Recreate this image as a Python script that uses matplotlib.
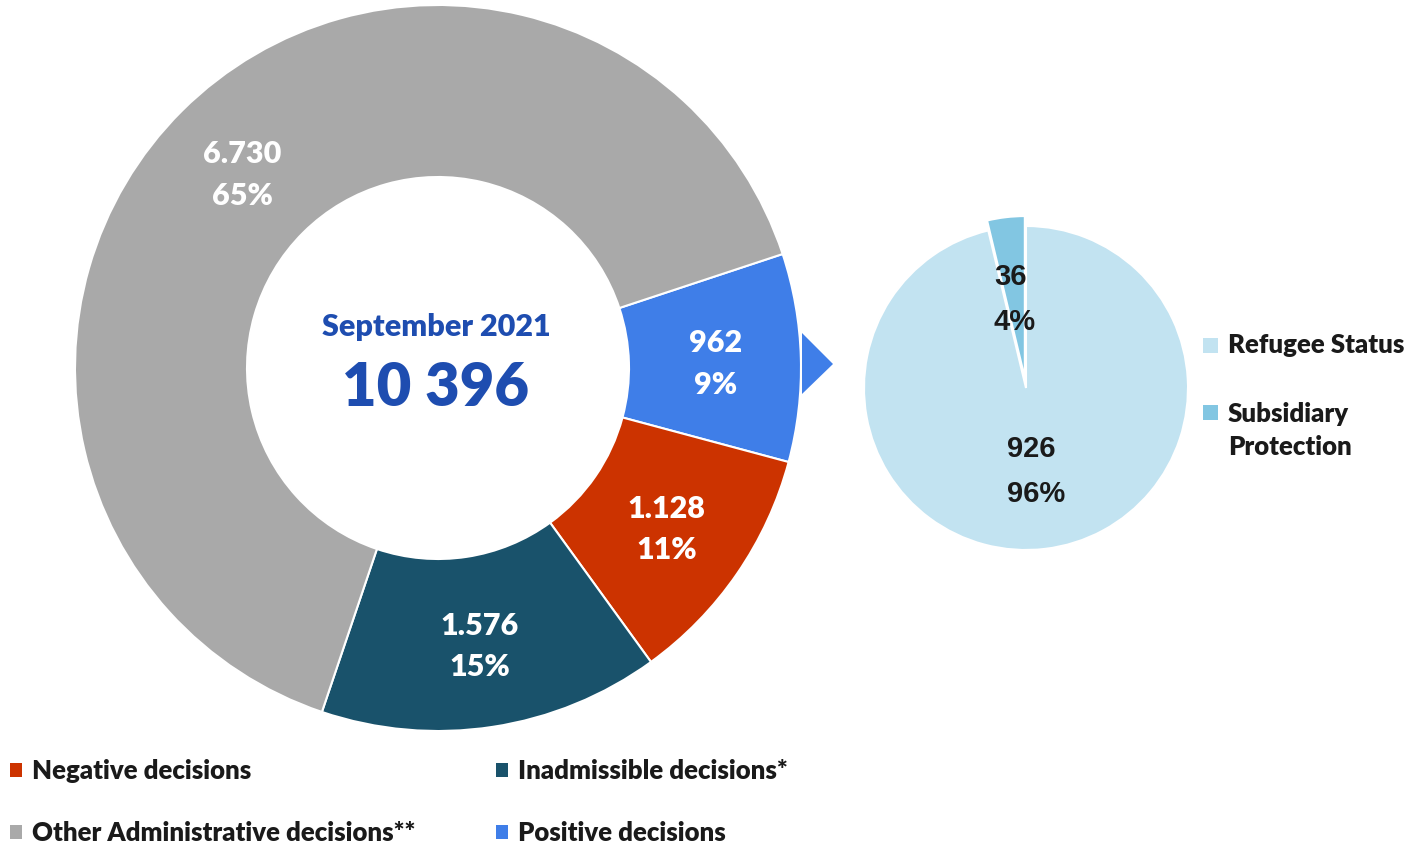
import matplotlib
matplotlib.use("Agg")
import matplotlib.pyplot as plt
from matplotlib.patches import Polygon, Rectangle

# ---------------- data ----------------
categories = ["Negative decisions", "Inadmissible decisions*",
              "Other Administrative decisions**", "Positive decisions"]
values = [1128, 1576, 6730, 962]
colors = ["#CC3300", "#19526B", "#A9A9A9", "#3F7EE8"]
value_labels = ["1.128", "1.576", "6.730", "962"]

center_title = "September 2021"
center_total = "10 396"

sub_categories = ["Subsidiary\nProtection", "Refugee Status"]
sub_values = [36, 926]
sub_colors = ["#82C6E2", "#C2E3F1"]

W, H = 1421, 849
fig = plt.figure(figsize=(W / 100, H / 100), dpi=100)
ax = fig.add_axes([0, 0, 1, 1])

def py(y):
    return H - y

FONT = "Lato"
WEIGHT = "heavy"

# donut order (clockwise from the positive slice)
order = [3, 0, 1, 2]
d_vals = [values[i] for i in order]
d_cols = [colors[i] for i in order]
d_lbls = [value_labels[i] for i in order]

lbl_iter = iter(d_lbls)
def donut_fmt(p):
    return f"{next(lbl_iter)}\n{p:.0f}%"

R = 363
_, _, autotexts = ax.pie(
    d_vals, colors=d_cols, startangle=18.3, counterclock=False,
    center=(438, py(368)), radius=R,
    wedgeprops=dict(width=172, edgecolor="white", linewidth=1.5),
    autopct=donut_fmt, pctdistance=0.765,
    textprops=dict(color="white", fontsize=22, fontweight=WEIGHT,
                   family=FONT, linespacing=1.6))
for t in autotexts:
    x0, y0 = t.get_position()
    t.set_position((x0, y0 - 4))

ax.text(436, py(327), center_title, ha="center", va="center",
        fontsize=22, fontweight=WEIGHT, family=FONT, color="#1E4DB0")
ax.text(436, py(388), center_total, ha="center", va="center",
        fontsize=43, fontweight=WEIGHT, family=FONT, color="#1E4DB0")

# connector triangle
ax.add_patch(Polygon([(802, py(333)), (802, py(394)), (833, py(364))],
                     closed=True, color=colors[3], lw=0))

# sub pie (explode is in data units here since radius is in pixels)
s_iter = iter(sub_values)
def sub_fmt(p):
    return f"{next(s_iter)}\n{p:.0f}%"

_, _, sub_texts = ax.pie(
    sub_values, colors=sub_colors, startangle=90, counterclock=True,
    center=(1026, py(388)), radius=162, explode=[10, 0],
    wedgeprops=dict(edgecolor="white", linewidth=1.5),
    autopct=sub_fmt, pctdistance=0.52,
    textprops=dict(color="#1A1A1A", fontsize=21, fontweight="bold",
                   family="Liberation Sans", linespacing=1.75,
                   multialignment="left"))
x0, y0 = sub_texts[0].get_position()
sub_texts[0].set_position((x0, y0 - 5))

# right legend
for (lbl, col, yy, ty) in [(sub_categories[1], sub_colors[1], 345, 345),
                           (sub_categories[0], sub_colors[0], 412, 430)]:
    ax.add_patch(Rectangle((1203, py(yy) - 7.5), 15, 15, color=col, lw=0))
    ax.text(1228, py(ty), lbl, ha="left", va="center",
            fontsize=18.5, fontweight=WEIGHT, family=FONT, color="#1A1A1A",
            linespacing=1.45)

# bottom legend
pos = {0: (10, 770), 1: (496, 770), 2: (10, 832), 3: (496, 832)}
for i, cat in enumerate(categories):
    x, y = pos[i]
    ax.add_patch(Rectangle((x, py(y) - 7), 12, 14, color=colors[i], lw=0))
    ax.text(x + 22, py(y + 1), cat, ha="left", va="center", fontsize=18.5,
            fontweight=WEIGHT, family=FONT, color="#1A1A1A")

ax.set_xlim(0, W)
ax.set_ylim(0, H)
ax.set_aspect("auto")
ax.axis("off")
fig.savefig("out.png", dpi=100, facecolor="white")
